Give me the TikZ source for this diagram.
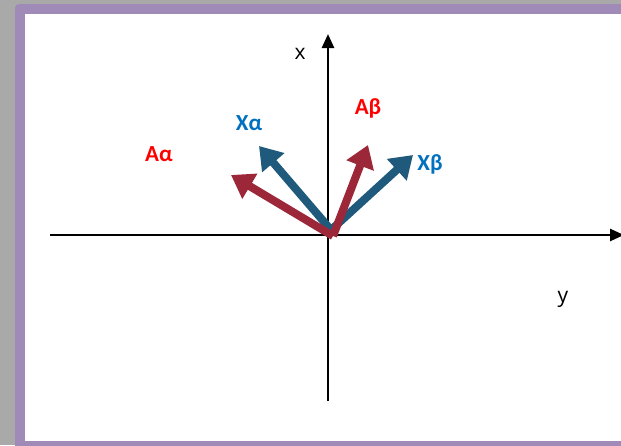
\documentclass[tikz,border=0pt]{standalone}
\usepackage{fontspec}
\setmainfont{Carlito}
\newfontfamily\axfont{Open Sans}
\usetikzlibrary{arrows.meta}
\definecolor{bggray}{HTML}{A9A9A9}
\definecolor{framepurple}{HTML}{A08AB8}
\definecolor{vecred}{HTML}{9B2738}
\definecolor{vecblue}{HTML}{1F5A7C}
\definecolor{labred}{HTML}{FF0000}
\definecolor{labblue}{HTML}{0070C0}
\tikzset{
  axis/.style={line width=2.5pt,-{Triangle[length=14pt,width=12pt]}},
  vec/.style={line width=8pt,-{Triangle[length=22pt,width=28pt]}},
  axlab/.style={font=\axfont\fontsize{21}{21}\selectfont},
  vlab/.style={font=\bfseries\fontsize{23}{23}\selectfont}
}
\begin{document}
\begin{tikzpicture}[x=1pt,y=-1pt]
\useasboundingbox (0,0) rectangle (621,445);
\fill[bggray] (0,0) rectangle (621,445);
\fill[framepurple,rounded corners=4pt] (15,4) rectangle (640,460);
\fill[white] (25,14) rectangle (621,441);
\fill[framepurple] (25,441) rectangle (621,445);
% axes
\coordinate (o) at (328,235);
\coordinate (xl) at (50,235);
\coordinate (xr) at (624,235);
\coordinate (yb) at (328,401);
\coordinate (yt) at (328,34);
\draw[line width=2.5pt] (xl) -- (o);
\draw[axis] (o) -- (xr);
\draw[line width=2.5pt] (yb) -- (o);
\draw[axis] (o) -- (yt);
% vectors
\coordinate (ob) at (331,230);
\coordinate (or) at (333,236);
\coordinate (txa) at (259,146);
\coordinate (txb) at (413,155);
\coordinate (taa) at (231,175);
\coordinate (tab) at (368,145);
\draw[vec,vecblue] (ob) -- (txa);
\draw[vec,vecblue] (ob) -- (txb);
\draw[vec,vecred] (or) -- (taa);
\draw[vec,vecred] (or) -- (tab);
% labels
\node[axlab] (lx) at (300,54) {x};
\node[axlab] (ly) at (563,299) {y};
\node[vlab,text=labred] (laa) at (159,154) {Aα};
\node[vlab,text=labblue] (lxa) at (249,123) {Xα};
\node[vlab,text=labred] (lab) at (368,108) {Aβ};
\node[vlab,text=labblue] (lxb) at (430,164) {Xβ};
\end{tikzpicture}
\end{document}
